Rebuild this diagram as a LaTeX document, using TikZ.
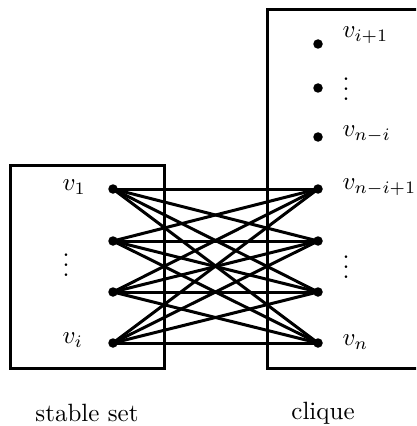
\documentclass[tikz,border=0pt]{standalone}
\begin{document}
\begin{tikzpicture}[x=0.4pt,y=-0.4pt,
  vtx/.style={circle,fill=black,inner sep=0pt,minimum size=3.8pt},
  lbl/.style={anchor=west,inner sep=0pt},
  edge/.style={line width=1.2pt},
  setbox/.style={line width=1.2pt}]
\clip (0,0) rectangle (416,426);
\draw[setbox] (10,165) rectangle (164,368);
\draw[setbox] (267,10) rectangle (440,368);
% left vertices
\node[vtx] (a1) at (113,189) {};
\node[vtx] (a2) at (113,241) {};
\node[vtx] (a3) at (113,292) {};
\node[vtx] (a4) at (113,343) {};
% right vertices
\node[vtx] (t1) at (318,44) {};
\node[vtx] (t2) at (318,88) {};
\node[vtx] (t3) at (318,137) {};
\node[vtx] (b1) at (318,189) {};
\node[vtx] (b2) at (318,241) {};
\node[vtx] (b3) at (318,292) {};
\node[vtx] (b4) at (318,343) {};
\foreach \i in {1,2,3,4}{\foreach \j in {1,2,3,4}{\draw[edge] (a\i.center) -- (b\j.center);}}
% labels
\node[lbl] (la1) at (62,187) {$v_1$};
\node[lbl] (la2) at (62,258) {$\vdots$};
\node[lbl] (la4) at (62,340) {$v_i$};
\node[lbl] (lt1) at (342,35) {$v_{i+1}$};
\node[lbl] (lt2) at (342,82) {$\vdots$};
\node[lbl] (lt3) at (342,134) {$v_{n-i}$};
\node[lbl] (lb1) at (342,187) {$v_{n-i+1}$};
\node[lbl] (lb2) at (342,260) {$\vdots$};
\node[lbl] (lb4) at (342,342) {$v_n$};
\node (ss) at (87,413) {stable set};
\node (cq) at (323,413) {clique};
\end{tikzpicture}
\end{document}
